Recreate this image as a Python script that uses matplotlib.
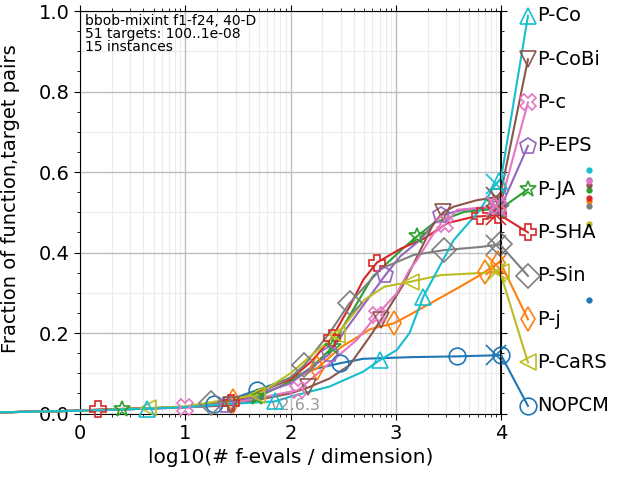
import numpy as np
import matplotlib
matplotlib.use("Agg")
import matplotlib.pyplot as plt

# ---- data ----
names = ["NOPCM", "P-j", "P-JA", "P-SHA", "P-EPS", "P-CoBi", "P-c", "P-Sin", "P-CaRS", "P-Co"]
colors = ["tab:blue", "tab:orange", "tab:green", "tab:red", "tab:purple",
          "tab:brown", "tab:pink", "tab:gray", "tab:olive", "tab:cyan"]
markers = ["o", "d", "*", "P", "p", "v", "X", "D", "<", "^"]

x_nopcm = [-0.75, 0, 1.0, 1.27, 1.42, 1.68, 2.0, 2.25, 2.47, 2.69, 3.13, 3.58, 4.0]
y_nopcm = [0.003, 0.007, 0.016, 0.024, 0.034, 0.058, 0.088, 0.112, 0.125, 0.136, 0.14, 0.142, 0.145]
m_nopcm = [1.27, 1.68, 2.47, 3.58, 4.0]

x_pj = [-0.75, 0, 1.0, 1.45, 2.0, 2.25, 2.48, 2.76, 2.98, 3.13, 3.33, 3.61, 3.8, 3.99]
y_pj = [0.003, 0.007, 0.016, 0.03, 0.085, 0.112, 0.165, 0.21, 0.224, 0.245, 0.274, 0.315, 0.344, 0.377]
m_pj = [1.45, 2.25, 2.98, 3.85, 3.97]

x_pja = [-0.75, 0, 0.4, 1.0, 1.68, 2.0, 2.2, 2.4, 2.5, 2.78, 3.05, 3.2, 3.36, 3.65, 4.0]
y_pja = [0.003, 0.007, 0.01, 0.016, 0.04, 0.08, 0.115, 0.165, 0.216, 0.34, 0.406, 0.44, 0.473, 0.501, 0.51]
m_pja = [0.4, 1.68, 2.4, 3.2, 4.0]

x_psha = [-0.75, 0, 0.17, 1.0, 1.43, 2.0, 2.2, 2.39, 2.56, 2.69, 2.82, 3.05, 3.27, 3.49, 3.74, 3.99]
y_psha = [0.003, 0.007, 0.01, 0.016, 0.025, 0.085, 0.13, 0.187, 0.265, 0.332, 0.375, 0.41, 0.435, 0.473, 0.489, 0.493]
m_psha = [0.17, 1.43, 2.39, 2.82, 3.8, 3.97]

x_peps = [-0.75, 0, 1.0, 1.39, 2.0, 2.37, 2.5, 2.9, 3.04, 3.23, 3.43, 3.64, 4.0]
y_peps = [0.003, 0.007, 0.015, 0.02, 0.075, 0.148, 0.2, 0.344, 0.39, 0.431, 0.493, 0.506, 0.514]
m_peps = [1.39, 2.37, 2.9, 3.43, 3.98]

x_pcobi = [-0.75, 0, 1.0, 1.43, 2.0, 2.17, 2.37, 2.56, 2.75, 2.94, 3.07, 3.17, 3.36, 3.45, 3.55, 3.77, 3.99]
y_pcobi = [0.003, 0.007, 0.016, 0.021, 0.05, 0.065, 0.087, 0.12, 0.19, 0.265, 0.32, 0.373, 0.473, 0.5, 0.514, 0.53, 0.539]
m_pcobi = [1.43, 2.17, 2.86, 3.45, 3.97]

x_pc = [-0.75, 0, 1.0, 1.5, 2.07, 2.37, 2.63, 2.82, 3.01, 3.13, 3.2, 3.36, 3.47, 3.58, 3.99]
y_pc = [0.003, 0.007, 0.015, 0.028, 0.058, 0.125, 0.183, 0.245, 0.299, 0.357, 0.381, 0.448, 0.47, 0.506, 0.516]
m_pc = [1.0, 2.07, 2.82, 3.47, 3.97]

x_psin = [-0.75, 0, 1.0, 1.24, 1.7, 2.0, 2.13, 2.37, 2.56, 2.86, 3.17, 3.46, 3.81, 3.99]
y_psin = [0.003, 0.007, 0.016, 0.025, 0.05, 0.09, 0.12, 0.2, 0.274, 0.36, 0.394, 0.406, 0.414, 0.42]
m_psin = [1.24, 2.13, 2.56, 3.46, 3.99]

x_pcars = [-0.75, 0, 0.65, 1.0, 1.68, 2.0, 2.2, 2.44, 2.7, 2.89, 3.13, 3.43, 3.87, 3.99]
y_pcars = [0.003, 0.007, 0.013, 0.018, 0.046, 0.1, 0.145, 0.195, 0.282, 0.315, 0.327, 0.344, 0.35, 0.352]
m_pcars = [0.65, 1.68, 2.44, 3.14, 4.0]

x_pco = [-0.75, 0, 0.64, 1.0, 1.43, 1.85, 2.0, 2.37, 2.69, 2.85, 3.01, 3.13, 3.26, 3.55, 3.8, 3.93, 4.0]
y_pco = [0.003, 0.007, 0.012, 0.016, 0.024, 0.03, 0.042, 0.067, 0.104, 0.133, 0.158, 0.2, 0.29, 0.431, 0.506, 0.563, 0.585]
m_pco = [0.64, 1.85, 2.85, 3.26, 3.98]

curves_x = [x_nopcm, x_pj, x_pja, x_psha, x_peps, x_pcobi, x_pc, x_psin, x_pcars, x_pco]
curves_y = [y_nopcm, y_pj, y_pja, y_psha, y_peps, y_pcobi, y_pc, y_psin, y_pcars, y_pco]
curves_m = [m_nopcm, m_pj, m_pja, m_psha, m_peps, m_pcobi, m_pc, m_psin, m_pcars, m_pco]

# legend order (top to bottom) and label heights
legend_order = ["P-Co", "P-CoBi", "P-c", "P-EPS", "P-JA", "P-SHA", "P-Sin", "P-j", "P-CaRS", "NOPCM"]
legend_y = [0.988, 0.880, 0.773, 0.665, 0.557, 0.450, 0.342, 0.234, 0.127, 0.019]

# small dots to the right of the axes
dot_y = {"P-Co": 0.605, "P-c": 0.577, "P-EPS": 0.579, "P-CoBi": 0.569, "P-JA": 0.555,
         "P-SHA": 0.535, "P-j": 0.527, "P-Sin": 0.516, "P-CaRS": 0.471, "NOPCM": 0.281}

xticks = [0, 1, 2, 3, 4]
yticks = [0.0, 0.2, 0.4, 0.6, 0.8, 1.0]

# ---- figure ----
fig = plt.figure(figsize=(6.4, 4.8), dpi=100)
ax = fig.add_axes([0.125, 0.1385, 0.658, 0.8385])
ax.set_xlim(0, 4)
ax.set_ylim(0, 1)

# grid
minor_x = [d + np.log10(k) for d in range(0, 4) for k in range(2, 10)]
for mx in minor_x:
    ax.axvline(mx, color="#ebebeb", lw=0.8, zorder=0)
for my in np.arange(0.1, 1.0, 0.2):
    ax.axhline(my, color="#ebebeb", lw=0.8, zorder=0)
for t in xticks:
    ax.axvline(t, color="#bdbdbd", lw=1.0, zorder=0.5)
for t in yticks:
    ax.axhline(t, color="#bdbdbd", lw=1.0, zorder=0.5)

ax.set_xticks(xticks)
ax.set_xticks(minor_x, minor=True)
ax.set_yticks(yticks)
ax.set_yticks(np.arange(0.05, 1.0, 0.05), minor=True)
ax.set_yticklabels(["%.1f" % v for v in yticks])
ax.tick_params(which="both", direction="out", top=True, right=True, labelsize=14)
ax.tick_params(which="major", length=4)
ax.tick_params(which="minor", length=2.5)
ax.set_xlabel("log10(# f-evals / dimension)", fontsize=14.5)
ax.set_ylabel("Fraction of function,target pairs", fontsize=14)
ax.yaxis.set_label_coords(-0.143, 0.535)

xleg_marker = 4.255
xleg_text = 4.34
xdot = 4.834
for name, col, mk, xs, ys, ms in zip(names, colors, markers, curves_x, curves_y, curves_m):
    ax.plot(xs, ys, color=col, lw=1.5, clip_on=False, zorder=3)
    my = np.interp(ms, xs, ys)
    ax.plot(ms, my, ls="none", marker=mk, ms=12, mfc="none", mec=col, mew=1.2,
            clip_on=False, zorder=4)
    # max-evals cross
    ax.plot([3.95], [np.interp(3.95, xs, ys)], marker="x", ms=14, color=col, mew=1.2,
            ls="none", clip_on=False, zorder=4)
    i = legend_order.index(name)
    ly = legend_y[i]
    ax.plot([xs[-1], xleg_marker], [ys[-1], ly], color=col, lw=1.5, clip_on=False, zorder=3)
    ax.plot([xleg_marker], [ly], marker=mk, ms=12, mfc="none", mec=col, mew=1.2,
            ls="none", clip_on=False, zorder=4)
    ax.text(xleg_text, ly, name, fontsize=14, va="center", ha="left", clip_on=False)
    ax.plot([xdot], [dot_y[name]], marker="o", ms=3.5, color=col, ls="none", clip_on=False)

ax.axvline(4, color="black", lw=2, zorder=5)

ax.text(0.012, 0.993, "bbob-mixint f1-f24, 40-D\n51 targets: 100..1e-08\n15 instances",
        transform=ax.transAxes, fontsize=10, va="top", ha="left", linespacing=0.92)
ax.text(1.81, 0.021, "v2.6.3", fontsize=11.5, color="gray", alpha=0.8, va="center", ha="left")

fig.savefig("out.png", dpi=100)
